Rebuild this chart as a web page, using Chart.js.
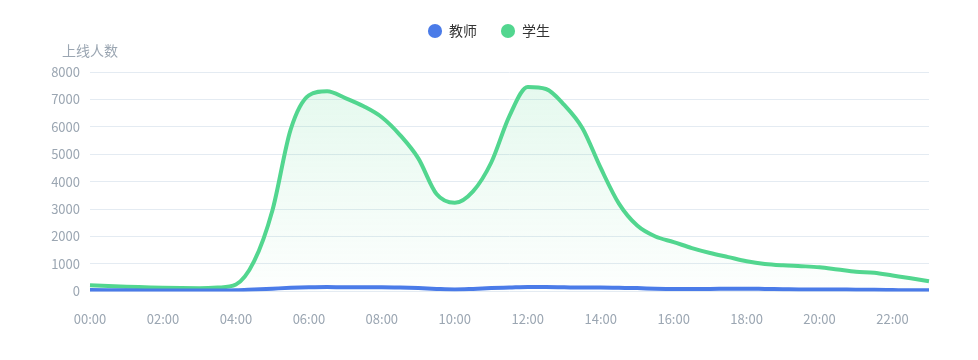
<!DOCTYPE html>
<html>
<head>
<meta charset="utf-8">
<script src="https://cdn.jsdelivr.net/npm/chart.js@4"></script>
<style>
  html, body { margin: 0; padding: 0; background: #fff; }
  #wrap { width: 978px; height: 360px; }
</style>
</head>
<body>
<div id="wrap"><canvas id="onlineChart" width="978" height="360"></canvas></div>
<script>
// time slots every half hour
const timeLabels = [
    '00:00', '00:30', '01:00', '01:30', '02:00', '02:30', '03:00', '03:30',
    '04:00', '04:30', '05:00', '05:30', '06:00', '06:30', '07:00', '07:30',
    '08:00', '08:30', '09:00', '09:30', '10:00', '10:30', '11:00', '11:30',
    '12:00', '12:30', '13:00', '13:30', '14:00', '14:30', '15:00', '15:30',
    '16:00', '16:30', '17:00', '17:30', '18:00', '18:30', '19:00', '19:30',
    '20:00', '20:30', '21:00', '21:30', '22:00', '22:30', '23:00'
];
const shownTimeLabels = ['00:00', '02:00', '04:00', '06:00', '08:00', '10:00',
    '12:00', '14:00', '16:00', '18:00', '20:00', '22:00'];

const teacherCounts = [
    50, 45, 40, 35, 30, 30, 30, 30,
    40, 70, 100, 130, 150, 160, 150, 150,
    150, 140, 120, 90, 70, 90, 120, 140,
    160, 160, 150, 140, 140, 130, 120, 100,
    90, 90, 90, 100, 100, 90, 80, 70,
    70, 70, 60, 60, 50, 40, 40
];
const studentCounts = [
    220, 195, 170, 150, 130, 120, 115, 140,
    250, 1100, 2950, 5900, 7150, 7300, 7050, 6750,
    6350, 5700, 4850, 3550, 3230, 3650, 4700, 6400,
    7450, 7380, 6800, 5950, 4500, 3200, 2400, 2000,
    1800, 1580, 1400, 1250, 1100, 1000, 950, 920,
    880, 800, 720, 680, 580, 480, 370
];

const seriesNames = ['教师', '学生'];
const yAxisName = '上线人数';
const yMax = 8000;
const yStep = 1000;

const blue = '#4a7be8';
const green = '#52d68f';
const mutedText = '#9ba6b2';
const gridColor = '#e4ebf2';
const fontFamily = '"Noto Sans CJK SC", "Noto Sans", sans-serif';

// extra room under the legend, and centre it on the whole canvas
const legendGap = {
    id: 'legendGap',
    beforeInit(chart) {
        const fit = chart.legend.fit;
        chart.legend.fit = function () {
            fit.bind(chart.legend)();
            this.height += 24;
        };
    },
    afterLayout(chart) {
        chart.legend.left = 0;
        chart.legend.right = chart.width;
    }
};

// axis name above the y axis
const axisName = {
    id: 'axisName',
    afterDraw(chart) {
        const ctx = chart.ctx;
        ctx.save();
        ctx.font = '14px ' + fontFamily;
        ctx.fillStyle = mutedText;
        ctx.textAlign = 'center';
        ctx.textBaseline = 'middle';
        ctx.fillText(yAxisName, chart.chartArea.left, chart.chartArea.top - 21);
        ctx.restore();
    }
};

const ctx = document.getElementById('onlineChart').getContext('2d');
new Chart(ctx, {
    type: 'line',
    data: {
        labels: timeLabels,
        datasets: [{
            label: seriesNames[0],
            data: teacherCounts,
            borderColor: blue,
            backgroundColor: blue,
            borderWidth: 4,
            pointRadius: 0,
            fill: false,
            cubicInterpolationMode: 'monotone'
        }, {
            label: seriesNames[1],
            data: studentCounts,
            borderColor: green,
            backgroundColor: function (c) {
                const area = c.chart.chartArea;
                if (!area) return 'rgba(82,214,143,0.12)';
                const g = c.chart.ctx.createLinearGradient(0, area.top, 0, area.bottom);
                g.addColorStop(0, 'rgba(82,214,143,0.16)');
                g.addColorStop(1, 'rgba(82,214,143,0.01)');
                return g;
            },
            borderWidth: 4,
            pointRadius: 0,
            fill: 'origin',
            cubicInterpolationMode: 'monotone'
        }]
    },
    options: {
        responsive: false,
        animation: false,
        layout: { padding: { top: 0, right: 49, bottom: 13, left: 0 } },
        plugins: {
            legend: {
                position: 'top',
                labels: {
                    usePointStyle: true,
                    pointStyle: 'circle',
                    boxWidth: 14,
                    boxHeight: 10,
                    padding: 24,
                    color: '#333',
                    font: { family: fontFamily, size: 14 },
                    generateLabels: function (chart) {
                        return chart.data.datasets.map((ds, i) => ({
                            text: ds.label,
                            fillStyle: ds.borderColor,
                            strokeStyle: ds.borderColor,
                            lineWidth: 0,
                            pointStyle: 'circle',
                            hidden: !chart.isDatasetVisible(i),
                            datasetIndex: i,
                            fontColor: '#333'
                        }));
                    }
                }
            },
            tooltip: { enabled: false }
        },
        scales: {
            x: {
                grid: { display: false, drawTicks: false },
                border: { display: false },
                ticks: {
                    autoSkip: false,
                    maxRotation: 0,
                    padding: 20,
                    color: mutedText,
                    font: { family: fontFamily, size: 13 },
                    callback: function (value) {
                        const lab = this.getLabelForValue(value);
                        return shownTimeLabels.includes(lab) ? lab : '';
                    }
                }
            },
            y: {
                min: 0,
                max: yMax,
                grid: { color: gridColor, drawTicks: false },
                border: { display: false },
                ticks: {
                    stepSize: yStep,
                    padding: 10,
                    color: mutedText,
                    font: { family: fontFamily, size: 13 },
                    callback: function (value) { return String(value); }
                },
                afterFit: function (scale) { scale.width = 90; }
            }
        }
    },
    plugins: [legendGap, axisName]
});
</script>
</body>
</html>
